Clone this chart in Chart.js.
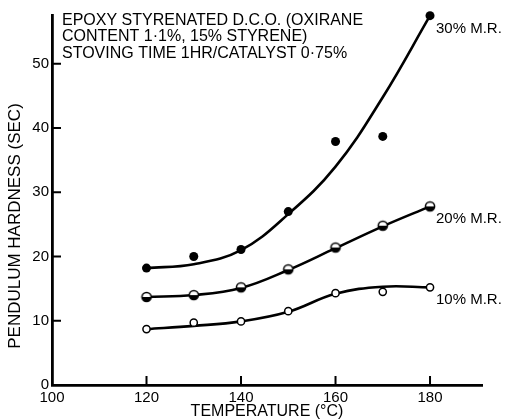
<!DOCTYPE html>
<html><head><meta charset="utf-8">
<script src="https://cdn.jsdelivr.net/npm/chart.js@4.4.0/dist/chart.umd.min.js"></script>
<style>html,body{margin:0;padding:0;background:#fff}#wrap{width:507px;height:420px}</style>
</head><body><div id="wrap"><canvas id="c" width="507" height="420"></canvas></div>
<script>
// ---- data ----
const temperatures = [120, 130, 140, 150, 160, 170, 180];
const hard30 = [18.2, 20.0, 21.1, 27.0, 37.9, 38.7, 57.5];   // 30% M.R. (filled)
const hard20 = [13.7, 14.0, 15.2, 18.0, 21.4, 24.8, 27.8];   // 20% M.R. (half filled)
const hard10 = [8.7, 9.7, 9.9, 11.5, 14.3, 14.5, 15.2];      // 10% M.R. (open)
// smoothed curves as drawn in the picture
const fitTemps = [120, 130, 140, 150, 160, 170, 180];
const fit30 = [18.2, 18.8, 21.0, 26.6, 34.0, 44.8, 57.5];
const fit20 = [13.7, 14.0, 15.1, 17.9, 21.3, 24.7, 27.8];
const fit10 = [8.7, 9.2, 9.9, 11.4, 14.2, 15.3, 15.2];
const xTicks = [100, 120, 140, 160, 180];
const yTicks = [0, 10, 20, 30, 40, 50];
const seriesLabels = ['30% M.R.', '20% M.R.', '10% M.R.'];
const headerLines = ['EPOXY STYRENATED D.C.O. (OXIRANE', 'CONTENT 1·1%, 15% STYRENE)', 'STOVING TIME 1HR/CATALYST 0·75%'];
const xTitle = 'TEMPERATURE (°C)';
const yTitle = 'PENDULUM HARDNESS (SEC)';

const FONT = '"Liberation Sans", Arial, sans-serif';
const toXY = (xs, ys) => xs.map((x, i) => ({x: x, y: ys[i]}));

// half filled marker (top white, bottom black)
function halfMarker(r) {
  const c = document.createElement('canvas');
  const s = Math.ceil(r * 2 + 4);
  c.width = s; c.height = s;
  const g = c.getContext('2d');
  const m = s / 2;
  g.beginPath(); g.arc(m, m, r, 0, Math.PI * 2); g.fillStyle = '#fff'; g.fill();
  g.beginPath(); g.arc(m, m, r, 0, Math.PI); g.closePath(); g.fillStyle = '#000'; g.fill();
  g.beginPath(); g.arc(m, m, r, 0, Math.PI * 2); g.lineWidth = 1.5; g.strokeStyle = '#000'; g.stroke();
  return c;
}

const decorPlugin = {
  id: 'decor',
  afterDraw(chart) {
    const ctx = chart.ctx;
    const xs = chart.scales.x, ys = chart.scales.y;
    const ca = chart.chartArea;
    ctx.save();
    // inward tick marks
    ctx.strokeStyle = '#000';
    ctx.lineWidth = 2;
    ctx.beginPath();
    xs.ticks.forEach(t => {
      if (t.value === xs.min) return;
      const p = xs.getPixelForValue(t.value);
      ctx.moveTo(p, ca.bottom); ctx.lineTo(p, ca.bottom - 9);
    });
    ys.ticks.forEach(t => {
      if (t.value === ys.min) return;
      const p = ys.getPixelForValue(t.value);
      ctx.moveTo(ca.left, p); ctx.lineTo(ca.left + 9, p);
    });
    ctx.stroke();
    // header text
    ctx.fillStyle = '#000';
    ctx.textBaseline = 'alphabetic';
    ctx.textAlign = 'left';
    ctx.font = '16px ' + FONT;
    headerLines.forEach((l, i) => ctx.fillText(l, ca.left + 10, ca.top + 9.5 + i * 16.5));
    // series labels
    ctx.font = '15px ' + FONT;
    const ends = [hard30, hard20, hard10];
    ends.forEach((arr, i) => {
      const lx = xs.getPixelForValue(temperatures[temperatures.length - 1]) + 6;
      const ly = ys.getPixelForValue(arr[arr.length - 1]) + 17;
      ctx.fillText(seriesLabels[i], lx, ly);
    });
    // y axis title
    ctx.font = '17px ' + FONT;
    ctx.translate(15, 226);
    ctx.rotate(-Math.PI / 2);
    ctx.textAlign = 'center';
    ctx.textBaseline = 'middle';
    ctx.fillText(yTitle, 0, 0);
    ctx.restore();
  }
};

const lineStyle = {borderColor: '#000', borderWidth: 2.6, pointRadius: 0, tension: 0.4, clip: false};

new Chart(document.getElementById('c'), {
  type: 'line',
  data: {
    datasets: [
      {data: toXY(temperatures, hard30), showLine: false, pointStyle: 'circle', pointRadius: 4.5,
       pointBackgroundColor: '#000', pointBorderWidth: 0, clip: false},
      {data: toXY(temperatures, hard20), showLine: false, pointStyle: halfMarker(4.6), pointRadius: 5, clip: false},
      {data: toXY(temperatures, hard10), showLine: false, pointStyle: 'circle', pointRadius: 3.6,
       pointBackgroundColor: '#fff', pointBorderColor: '#000', pointBorderWidth: 1.5, clip: false},
      Object.assign({data: toXY(fitTemps, fit30)}, lineStyle),
      Object.assign({data: toXY(fitTemps, fit20)}, lineStyle),
      Object.assign({data: toXY(fitTemps, fit10)}, lineStyle)
    ]
  },
  options: {
    responsive: false,
    animation: false,
    devicePixelRatio: 1,
    layout: {padding: {top: 15, right: 25, left: 0, bottom: 0}},
    plugins: {legend: {display: false}, tooltip: {enabled: false}},
    scales: {
      x: {
        type: 'linear', min: 100, max: 191,
        afterBuildTicks: s => { s.ticks = xTicks.map(v => ({value: v})); },
        afterFit: s => { s.height = 35; },
        grid: {display: false, drawTicks: false},
        border: {display: true, color: '#000', width: 2.8},
        ticks: {color: '#000', font: {family: FONT, size: 15}, padding: 4, maxRotation: 0, autoSkip: false},
        title: {display: true, text: xTitle, color: '#000', font: {family: FONT, size: 16, lineHeight: 1}, padding: {top: 0, bottom: 0}}
      },
      y: {
        type: 'linear', min: 0, max: 57.6,
        afterBuildTicks: s => { s.ticks = yTicks.map(v => ({value: v})); },
        afterFit: s => { s.width = 52; },
        grid: {display: false, drawTicks: false},
        border: {display: true, color: '#000', width: 2.8},
        ticks: {color: '#000', font: {family: FONT, size: 15}, padding: 3, autoSkip: false},
        title: {display: false}
      }
    }
  },
  plugins: [decorPlugin]
});
</script>
</body></html>
